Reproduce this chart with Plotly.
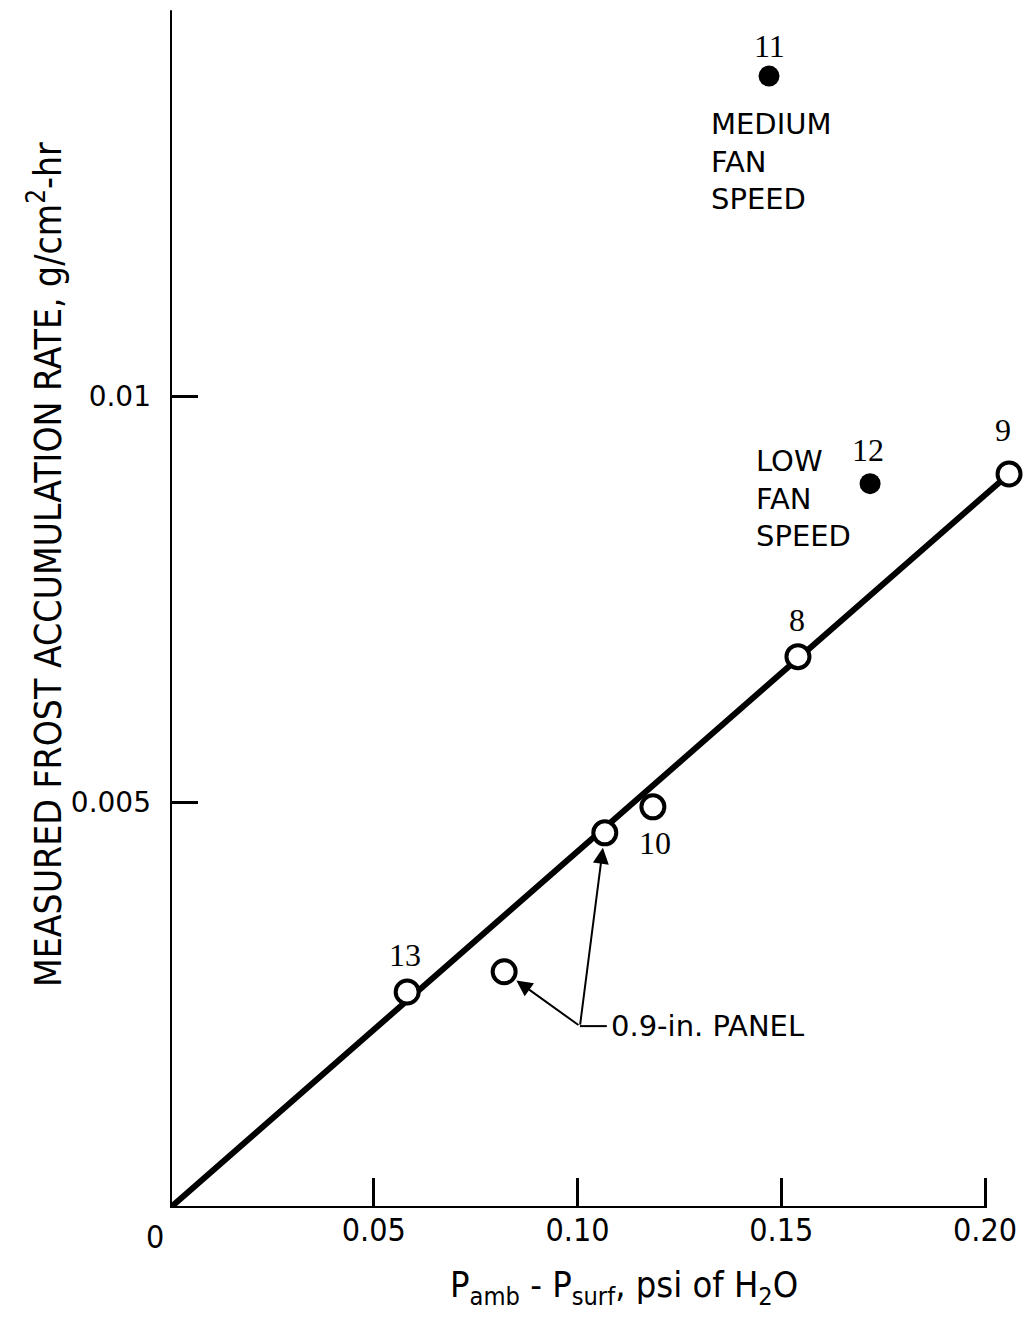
import plotly.graph_objects as go

# ---- data ----
open_x = [0.0582, 0.0820, 0.1067, 0.1185, 0.1541, 0.2059]
open_y = [0.00266, 0.00291, 0.00462, 0.00494, 0.00679, 0.00904]
open_labels = ["13", "", "", "10", "8", "9"]

filled_x = [0.1470, 0.1718]
filled_y = [0.01394, 0.00892]
filled_labels = ["11", "12"]

fit_x = [0.0, 0.2059]
fit_y = [0.0, 0.00904]

x_tickvals = [0.05, 0.10, 0.15, 0.20]
x_ticktext = ["0.05", "0.10", "0.15", "0.20"]
y_tickvals = [0.005, 0.01]
y_ticktext = ["0.005", "0.01"]

COND = "DejaVu Sans Condensed, Liberation Sans Narrow, Roboto Condensed, DejaVu Sans, sans-serif"
SERIF = "Liberation Serif, DejaVu Serif, serif"
SANS = "DejaVu Sans, sans-serif"

fig = go.Figure()

fig.add_trace(go.Scatter(x=fit_x, y=fit_y, mode="lines",
                         line=dict(color="black", width=6), showlegend=False, hoverinfo="skip"))
fig.add_trace(go.Scatter(x=open_x, y=open_y, mode="markers",
                         marker=dict(symbol="circle", size=23, color="white",
                                     line=dict(color="black", width=4)),
                         showlegend=False, cliponaxis=False))
fig.add_trace(go.Scatter(x=filled_x, y=filled_y, mode="markers",
                         marker=dict(symbol="circle", size=21, color="black"),
                         showlegend=False, cliponaxis=False))

# axis lines
fig.add_shape(type="line", x0=0, y0=0, x1=0.20, y1=0, xref="x", yref="y",
              line=dict(color="black", width=4))
fig.add_shape(type="line", x0=0, y0=0, x1=0, y1=0.01475, xref="x", yref="y",
              line=dict(color="black", width=4))

ann = []
# point labels
label_offsets = {"13": (-2, 37), "10": (2, -36), "8": (-1, 37), "9": (-6, 44),
                 "11": (0, 30), "12": (-2, 34)}
for lx, ly, lab in zip(open_x + filled_x, open_y + filled_y, open_labels + filled_labels):
    if not lab:
        continue
    dx, dy = label_offsets[lab]
    ann.append(dict(x=lx, y=ly, text=lab, showarrow=False, xshift=dx, yshift=dy,
                    font=dict(family=SERIF, size=32, color="black")))

# group annotations
ann.append(dict(x=filled_x[0], y=filled_y[0], text="MEDIUM<br>FAN<br>SPEED", showarrow=False,
                xanchor="left", yanchor="middle", align="left", xshift=-60, yshift=-85,
                font=dict(family=SANS, size=29, color="black")))
ann.append(dict(x=filled_x[1], y=filled_y[1], text="LOW<br>FAN<br>SPEED", showarrow=False,
                xanchor="left", yanchor="middle", align="left", xshift=-116, yshift=-15,
                font=dict(family=SANS, size=29, color="black")))

# 0.9-in. panel arrows
tail_x, tail_y = 0.1006, 0.00224
ann.append(dict(x=open_x[2], y=open_y[2], ax=tail_x, ay=tail_y, axref="x", ayref="y",
                xref="x", yref="y", text="", showarrow=True, arrowhead=2, arrowsize=1.6,
                arrowwidth=2, arrowcolor="black", standoff=15))
ann.append(dict(x=open_x[1], y=open_y[1], ax=tail_x, ay=tail_y, axref="x", ayref="y",
                xref="x", yref="y", text="", showarrow=True, arrowhead=2, arrowsize=1.6,
                arrowwidth=2, arrowcolor="black", standoff=15))
fig.add_shape(type="line", x0=tail_x, y0=tail_y, x1=tail_x + 0.0066, y1=tail_y,
              xref="x", yref="y", line=dict(color="black", width=2))
ann.append(dict(x=tail_x + 0.0066, y=tail_y, text="0.9-in. PANEL", showarrow=False,
                xanchor="left", yanchor="middle", xshift=2,
                font=dict(family=SANS, size=29, color="black")))

# origin label
ann.append(dict(x=0, y=0, text="0", showarrow=False, xanchor="center", yanchor="top",
                xshift=-15, yshift=-8, font=dict(family=COND, size=32, color="black")))

# axis titles
ann.append(dict(xref="paper", yref="paper", x=(624 - 170) / 855, y=0, xanchor="center",
                yanchor="top", yshift=-54, showarrow=False,
                text="P<sub>amb</sub> - P<sub>surf</sub>, psi of H<sub>2</sub>O",
                font=dict(family=COND, size=36, color="black")))
ann.append(dict(xref="paper", yref="paper", x=0, y=(1208 - 565) / 1203, xanchor="center",
                yanchor="middle", xshift=-125, showarrow=False, textangle=-90,
                text="MEASURED FROST ACCUMULATION RATE, g/cm<sup>2</sup>-hr",
                font=dict(family=COND, size=37, color="black")))

fig.update_layout(
    width=1029, height=1320, autosize=False,
    margin=dict(l=170, r=4, t=5, b=112),
    paper_bgcolor="white", plot_bgcolor="white",
    annotations=ann,
    xaxis=dict(range=[0, (1025 - 170) / 4075], showline=False, showgrid=False, zeroline=False,
               ticks="inside", ticklen=30, tickwidth=2.5, tickcolor="black",
               tickvals=x_tickvals, ticktext=x_ticktext,
               tickfont=dict(family=COND, size=32, color="black")),
    yaxis=dict(range=[0, (1208 - 5) / 81200], showline=False, showgrid=False, zeroline=False,
               ticks="inside", ticklen=28, tickwidth=2.5, tickcolor="black",
               tickvals=y_tickvals, ticktext=y_ticktext, ticklabelstandoff=18,
               tickfont=dict(family=SANS, size=28, color="black")),
)

fig.write_html("out.html", config={"displayModeBar": False},
               post_script="document.body.style.margin='0';")
